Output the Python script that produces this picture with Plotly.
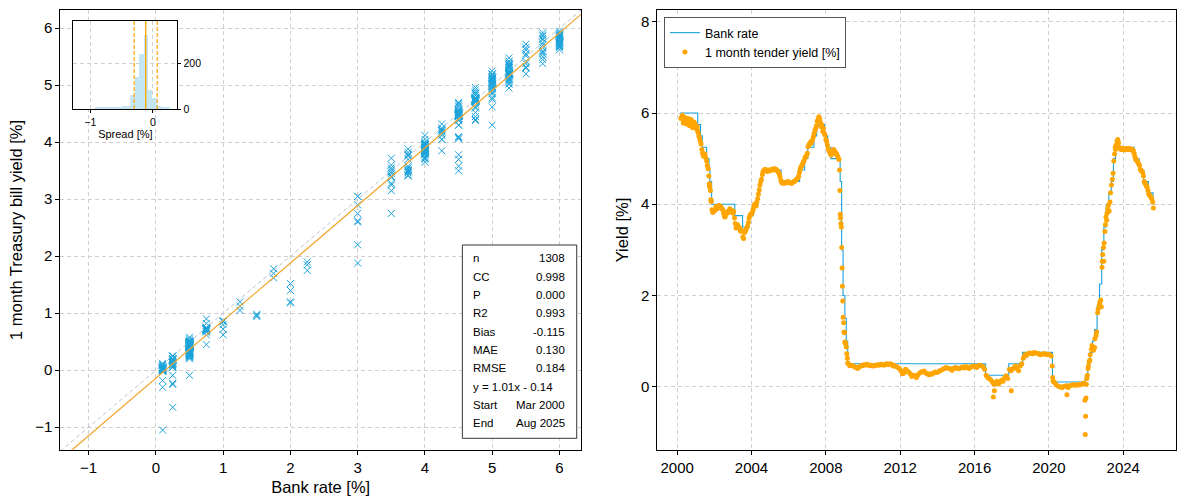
import numpy as np
import pandas as pd
import plotly.graph_objects as go

# --- Bank Rate: date each level took effect ---
rate_dates = [
    '2000-03-01', '2001-02-08', '2001-04-05', '2001-05-10', '2001-08-02', '2001-09-18',
    '2001-10-04', '2001-11-08', '2003-02-06', '2003-07-10', '2003-11-06', '2004-02-05',
    '2004-05-06', '2004-06-10', '2004-08-05', '2005-08-04', '2006-08-03', '2006-11-09',
    '2007-01-11', '2007-05-10', '2007-07-05', '2007-12-06', '2008-02-07', '2008-04-10',
    '2008-10-08', '2008-11-06', '2008-12-04', '2009-01-08', '2009-02-05', '2009-03-05',
    '2016-08-04', '2017-11-02', '2018-08-02', '2020-03-11', '2020-03-19', '2021-12-16',
    '2022-02-03', '2022-03-17', '2022-05-05', '2022-06-16', '2022-08-04', '2022-09-22',
    '2022-11-03', '2022-12-15', '2023-02-02', '2023-03-23', '2023-05-11', '2023-06-22',
    '2023-08-03', '2024-08-01', '2024-11-07', '2025-02-06', '2025-05-08', '2025-08-07',
]
rate_levels = [
    6.00, 5.75, 5.50, 5.25, 5.00, 4.75,
    4.50, 4.00, 3.75, 3.50, 3.75, 4.00,
    4.25, 4.50, 4.75, 4.50, 4.75, 5.00,
    5.25, 5.50, 5.75, 5.50, 5.25, 5.00,
    4.50, 3.00, 2.00, 1.50, 1.00, 0.50,
    0.25, 0.50, 0.75, 0.25, 0.10, 0.25,
    0.50, 0.75, 1.00, 1.25, 1.75, 2.25,
    3.00, 3.50, 4.00, 4.25, 4.50, 5.00,
    5.25, 5.00, 4.75, 4.50, 4.25, 4.00,
]

# --- 1 month tender yield [%], mid-month readings from Mar 2000 to Aug 2025 ---
monthly_start = '2000-03-01'
monthly_yield = [
    5.88, 5.95, 5.82, 5.86, 5.80, 5.84, 5.78, 5.82, 5.74, 5.70,               # 2000 (Mar-Dec)
    5.66, 5.58, 5.45, 5.32, 5.12, 5.08, 5.02, 4.85, 4.62, 4.30, 3.88, 3.86,   # 2001
    3.88, 3.92, 3.95, 3.96, 3.93, 3.88, 3.74, 3.78, 3.84, 3.85, 3.87, 3.86,   # 2002
    3.84, 3.58, 3.52, 3.50, 3.46, 3.42, 3.28, 3.38, 3.45, 3.52, 3.70, 3.78,   # 2003
    3.82, 3.95, 3.98, 4.05, 4.22, 4.42, 4.55, 4.72, 4.76, 4.74, 4.72, 4.74,   # 2004
    4.75, 4.76, 4.78, 4.76, 4.74, 4.70, 4.60, 4.48, 4.47, 4.46, 4.48, 4.50,   # 2005
    4.47, 4.46, 4.48, 4.50, 4.52, 4.56, 4.62, 4.78, 4.85, 4.92, 5.02, 5.06,   # 2006
    5.26, 5.32, 5.34, 5.42, 5.55, 5.66, 5.82, 5.92, 5.80, 5.74, 5.66, 5.52,   # 2007
    5.38, 5.22, 5.15, 5.08, 5.12, 5.18, 5.12, 5.06, 4.98, 3.70, 2.60, 1.40,   # 2008
    0.96, 0.72, 0.50, 0.46, 0.47, 0.45, 0.44, 0.42, 0.40, 0.43, 0.45, 0.46,   # 2009
    0.48, 0.47, 0.49, 0.48, 0.46, 0.47, 0.45, 0.46, 0.47, 0.48, 0.47, 0.49,   # 2010
    0.48, 0.47, 0.49, 0.50, 0.48, 0.50, 0.49, 0.45, 0.46, 0.44, 0.42, 0.40,   # 2011
    0.35, 0.28, 0.30, 0.38, 0.35, 0.32, 0.28, 0.22, 0.25, 0.24, 0.20, 0.26,   # 2012
    0.30, 0.32, 0.33, 0.34, 0.30, 0.29, 0.26, 0.28, 0.27, 0.30, 0.32, 0.31,   # 2013
    0.32, 0.35, 0.36, 0.38, 0.40, 0.42, 0.41, 0.40, 0.39, 0.36, 0.40, 0.42,   # 2014
    0.41, 0.39, 0.40, 0.42, 0.43, 0.41, 0.44, 0.42, 0.40, 0.43, 0.44, 0.45,   # 2015
    0.44, 0.42, 0.46, 0.47, 0.45, 0.44, 0.38, 0.25, 0.20, 0.18, 0.15, 0.10,   # 2016
    0.05, 0.08, 0.12, 0.06, 0.10, 0.14, 0.12, 0.20, 0.24, 0.18, 0.38, 0.35,   # 2017
    0.38, 0.42, 0.45, 0.40, 0.35, 0.45, 0.50, 0.62, 0.70, 0.68, 0.72, 0.74,   # 2018
    0.73, 0.72, 0.75, 0.74, 0.73, 0.72, 0.70, 0.71, 0.72, 0.72, 0.70, 0.71,   # 2019
    0.70, 0.67, 0.20, 0.10, 0.05, 0.02, 0.00, -0.01, -0.02, 0.00, 0.01, 0.02, # 2020
    -0.02, 0.02, 0.03, 0.04, 0.03, 0.04, 0.03, 0.05, 0.04, 0.06, 0.08, -1.05, # 2021
    0.18, 0.45, 0.58, 0.82, 0.85, 0.86, 1.12, 1.62, 1.78, 1.90, 2.75, 2.75,   # 2022
    3.55, 3.80, 3.98, 4.05, 4.42, 4.68, 5.10, 5.30, 5.42, 5.25, 5.20, 5.22,   # 2023
    5.20, 5.21, 5.22, 5.20, 5.21, 5.20, 5.18, 5.05, 4.98, 4.92, 4.85, 4.75,   # 2024
    4.70, 4.50, 4.45, 4.38, 4.22, 4.18, 4.12, 3.92,                           # 2025 (Jan-Aug)
]

# --- start-of-month tenders, Apr 2000 to Sep 2008 ---
early_start_a = '2000-04-01'
early_yield_a = [
    5.92, 5.78, 5.90, 5.76, 5.88, 5.72, 5.86, 5.68, 5.80,                     # 2000 (Apr-Dec)
    5.74, 5.70, 5.50, 5.38, 5.20, 5.05, 5.10, 4.95, 4.78, 4.40, 4.08, 3.82,   # 2001
    3.85, 3.95, 3.90, 3.97, 3.95, 3.90, 3.80, 3.72, 3.80, 3.82, 3.90, 3.84,   # 2002
    3.80, 3.70, 3.48, 3.55, 3.50, 3.41, 3.42, 3.25, 3.40, 3.48, 3.60, 3.76,   # 2003
    3.78, 3.88, 4.00, 3.96, 4.12, 4.32, 4.50, 4.65, 4.74, 4.76, 4.73, 4.75,   # 2004
    4.74, 4.77, 4.75, 4.78, 4.76, 4.72, 4.66, 4.52, 4.46, 4.48, 4.47, 4.49,   # 2005
    4.48, 4.47, 4.46, 4.49, 4.51, 4.54, 4.58, 4.70, 4.82, 4.88, 4.96, 5.04,   # 2006
    5.12, 5.30, 5.36, 5.38, 5.48, 5.62, 5.72, 5.86, 5.88, 5.70, 5.60, 5.55,   # 2007
    5.42, 5.30, 5.18, 5.10, 5.15, 5.20, 5.14, 5.10, 5.02,                     # 2008 (Jan-Sep)
]

# --- start-of-month tenders, Aug 2023 to Aug 2025 ---
early_start_b = '2023-08-01'
early_yield_b = [
    5.20, 5.38, 5.35, 5.22, 5.20,                                             # 2023 (Aug-Dec)
    5.22, 5.19, 5.21, 5.20, 5.22, 5.19, 5.20, 5.12, 4.98, 4.95, 4.88, 4.76,   # 2024
    4.72, 4.62, 4.46, 4.40, 4.30, 4.20, 4.15, 4.05,                           # 2025 (Jan-Aug)
]

# extra tenders read in the fast-moving weeks
extra_dates = [
    '2001-02-01', '2001-09-25', '2001-10-01', '2001-10-25', '2001-11-01',
    '2008-09-26', '2008-10-03', '2008-10-10', '2008-10-24', '2008-10-31',
    '2008-11-07', '2008-11-21', '2008-11-28', '2008-12-05', '2008-12-22',
    '2009-01-02', '2009-01-09', '2009-01-23', '2009-02-06', '2009-02-27',
    '2009-03-06', '2017-01-05', '2017-01-25', '2017-12-22', '2020-03-05',
    '2020-03-22', '2020-12-20', '2021-12-08', '2021-12-22', '2021-12-29',
    '2022-01-05', '2022-01-25', '2022-02-08', '2022-03-01', '2022-03-22',
    '2022-04-27', '2022-05-25', '2022-06-22', '2022-07-27', '2022-08-24',
    '2022-09-28', '2022-10-26', '2022-11-09', '2022-11-23', '2022-12-07',
    '2022-12-21', '2023-01-04', '2023-01-25', '2023-02-08', '2023-03-01',
    '2023-03-29', '2023-04-26', '2023-05-31', '2023-06-28', '2023-07-26',
]
extra_yield = [
    5.62, 4.45, 4.38, 4.10, 4.06,
    4.75, 4.30, 3.78, 3.58, 3.50,
    3.05, 2.20, 1.88, 1.52, 1.20,
    1.18, 0.98, 0.94, 0.87, 0.62,
    0.52, -0.23, -0.09, -0.09, 0.45,
    0.12, -0.18, -0.30, -0.65, -0.25,
    0.05, 0.25, 0.40, 0.55, 0.70,
    0.90, 0.80, 1.05, 1.20, 1.70,
    1.85, 1.75, 2.62, 2.90, 3.05,
    3.15, 3.40, 3.72, 3.65, 3.90,
    3.85, 4.25, 4.55, 4.95, 5.25,
]

# --- Spread histogram (yield - bank rate), counts per bin ---
spread_centers = [-0.88, -0.81, -0.74, -0.67, -0.60, -0.53, -0.46, -0.39, -0.32,
                  -0.25, -0.18, -0.11, -0.04, 0.03, 0.10, 0.17, 0.24]
spread_counts = [5, 5, 6, 7, 8, 10, 13, 14, 61,
                 140, 238, 322, 83, 46, 14, 10, 5]
spread_bin_width = 0.07

# --- Fit statistics ---
stat_labels = ['n', 'CC', 'P', 'R2', 'Bias', 'MAE', 'RMSE']
stat_values = ['1308', '0.998', '0.000', '0.993', '-0.115', '0.130', '0.184']
fit_slope = 1.01
fit_intercept = -0.14
spread_bias = -0.115
spread_rmse = 0.184
period_start = 'Mar 2000'
period_end = 'Aug 2025'

BLUE = '#1ba3dc'
ORANGE = '#ffa500'
FIT_ORANGE = '#f2a630'
HIST_BLUE = '#c4e5f3'
GRID = '#cfcfcf'
FONT = 'Liberation Sans, Arial, sans-serif'

# === Build the series ===
def month_dates(start, n, day_offset):
    return list(pd.date_range(start, periods=n, freq='MS') + pd.Timedelta(days=day_offset))

df = pd.DataFrame({
    'date': (month_dates(monthly_start, len(monthly_yield), 14)
             + month_dates(early_start_a, len(early_yield_a), 0)
             + month_dates(early_start_b, len(early_yield_b), 0)
             + list(pd.to_datetime(extra_dates))),
    'yield': monthly_yield + early_yield_a + early_yield_b + extra_yield,
}).sort_values('date').reset_index(drop=True)

rate_dt = pd.to_datetime(rate_dates)
idx = np.searchsorted(rate_dt.values, df['date'].values, side='right') - 1
df['rate'] = np.array(rate_levels)[idx]

x_range_left = [-1.42, 6.32]
y_range_left = [-1.40, 6.32]

fig = go.Figure()

# 1:1 line
fig.add_trace(go.Scatter(
    x=x_range_left, y=x_range_left,
    mode='lines', line=dict(color='#b7c3d6', width=1, dash='4px,3px'),
    showlegend=False, hoverinfo='skip', xaxis='x', yaxis='y'
))

# Treasury bill yield vs bank rate
fig.add_trace(go.Scatter(
    x=df['rate'], y=df['yield'],
    mode='markers',
    marker=dict(symbol='x-thin', size=7, line=dict(width=1, color=BLUE), color=BLUE),
    showlegend=False, xaxis='x', yaxis='y'
))

# Fitted line
fit_x = np.array(x_range_left)
fig.add_trace(go.Scatter(
    x=fit_x, y=fit_slope * fit_x + fit_intercept,
    mode='lines', line=dict(color=FIT_ORANGE, width=1.3),
    showlegend=False, hoverinfo='skip', xaxis='x', yaxis='y'
))

# Right panel: bank rate step line
end_date = df['date'].max()
fig.add_trace(go.Scatter(
    x=list(rate_dt) + [end_date], y=rate_levels + [rate_levels[-1]],
    mode='lines', line=dict(color=BLUE, width=1.1, shape='hv'),
    name='Bank rate', xaxis='x2', yaxis='y2'
))

fig.add_trace(go.Scatter(
    x=df['date'], y=df['yield'],
    mode='markers', marker=dict(color=ORANGE, size=5),
    name='1 month tender yield [%]', xaxis='x2', yaxis='y2'
))

# Inset histogram of spread
fig.add_trace(go.Bar(
    x=spread_centers, y=spread_counts, width=spread_bin_width,
    marker=dict(color=HIST_BLUE, line=dict(width=0)),
    showlegend=False, xaxis='x3', yaxis='y3'
))

axis_common = dict(
    showline=True, linecolor='black', linewidth=1, mirror=True,
    ticks='outside', ticklen=4, tickcolor='black',
    showgrid=True, gridcolor=GRID, griddash='4px,3px', gridwidth=0.8,
    zeroline=False, tickfont=dict(size=15, color='black'),
    automargin=False,
)

shapes = [
    # white face of the inset, above main plot but below inset grid
    dict(type='rect', xref='x3 domain', yref='y3 domain', x0=0, x1=1, y0=0, y1=1,
         fillcolor='white', line=dict(width=0), layer='below'),
    dict(type='line', xref='x3', yref='y3 domain', x0=spread_bias, x1=spread_bias, y0=0, y1=1,
         line=dict(color=ORANGE, width=1.3)),
    dict(type='line', xref='x3', yref='y3 domain', x0=spread_bias - spread_rmse,
         x1=spread_bias - spread_rmse, y0=0, y1=1, line=dict(color=ORANGE, width=1.2, dash='4px,2px')),
    dict(type='line', xref='x3', yref='y3 domain', x0=spread_bias + spread_rmse,
         x1=spread_bias + spread_rmse, y0=0, y1=1, line=dict(color=ORANGE, width=1.2, dash='4px,2px')),
    # stats box
    dict(type='rect', xref='paper', yref='paper', x0=0.3853, x1=0.4806, y0=0.1234, y1=0.51,
         fillcolor='white', line=dict(color='black', width=0.8), layer='above'),
]

# Stats box text
rows_left = stat_labels + [f'y = {fit_slope:.2f}x - {abs(fit_intercept):.2f}', 'Start', 'End']
rows_right = stat_values + ['', period_start, period_end]
annotations = []
for i, (lab, val) in enumerate(zip(rows_left, rows_right)):
    ypos = 1 - (258.3 + i * 18.33) / 500
    annotations.append(dict(x=0.3925, y=ypos, xref='paper', yref='paper', text=lab,
                            showarrow=False, xanchor='left', yanchor='middle',
                            font=dict(size=11.5, color='black')))
    if val:
        annotations.append(dict(x=0.4722, y=ypos, xref='paper', yref='paper', text=val,
                                showarrow=False, xanchor='right', yanchor='middle',
                                font=dict(size=11.5, color='black')))

fig.update_layout(
    width=1200, height=500,
    margin=dict(l=0, r=0, t=0, b=0),
    paper_bgcolor='white', plot_bgcolor='white',
    font=dict(family=FONT, color='black'),
    xaxis=dict(domain=[0.0503, 0.4842], range=x_range_left, anchor='y',
               tickvals=[-1, 0, 1, 2, 3, 4, 5, 6], ticktext=['−1', '0', '1', '2', '3', '4', '5', '6'],
               title=dict(text='Bank rate [%]', font=dict(size=16.5), standoff=6), **axis_common),
    yaxis=dict(domain=[0.10, 0.98], range=y_range_left, anchor='x',
               tickvals=[-1, 0, 1, 2, 3, 4, 5, 6], ticktext=['−1', '0', '1', '2', '3', '4', '5', '6'],
               title=dict(text='1 month Treasury bill yield [%]', font=dict(size=16.5), standoff=8),
               **axis_common),
    xaxis2=dict(domain=[0.5478, 0.98], range=['1998-12-08', '2026-11-02'], anchor='y2',
                type='date', tick0='2000-01-01', dtick='M48', tickformat='%Y', **axis_common),
    yaxis2=dict(domain=[0.10, 0.98], range=[-1.39, 8.26], anchor='x2',
                tickvals=[0, 2, 4, 6, 8],
                title=dict(text='Yield [%]', font=dict(size=16.5), standoff=8), **axis_common),
    xaxis3=dict(domain=[0.0611, 0.1478], range=[-1.27, 0.39], anchor='y3',
                tickvals=[-1, 0], ticktext=['−1', '0'],
                title=dict(text='Spread [%]', font=dict(size=11), standoff=2),
                **{**axis_common, 'tickfont': dict(size=10.5, color='black'), 'ticklen': 3}),
    yaxis3=dict(domain=[0.782, 0.958], range=[0, 384], anchor='x3', side='right',
                tickvals=[0, 200],
                **{**axis_common, 'tickfont': dict(size=10.5, color='black'), 'ticklen': 3}),
    legend=dict(x=0.5533, y=0.966, xanchor='left', yanchor='top',
                bgcolor='white', bordercolor='#555555', borderwidth=1,
                font=dict(size=12.5, color='black'), tracegroupgap=0),
    bargap=0,
    shapes=shapes,
    annotations=annotations,
)

# the page's default body margin would push the 1200x500 figure off the window
fig.write_html('out.html', config={'displayModeBar': False},
               post_script="document.body.style.margin='0';")
